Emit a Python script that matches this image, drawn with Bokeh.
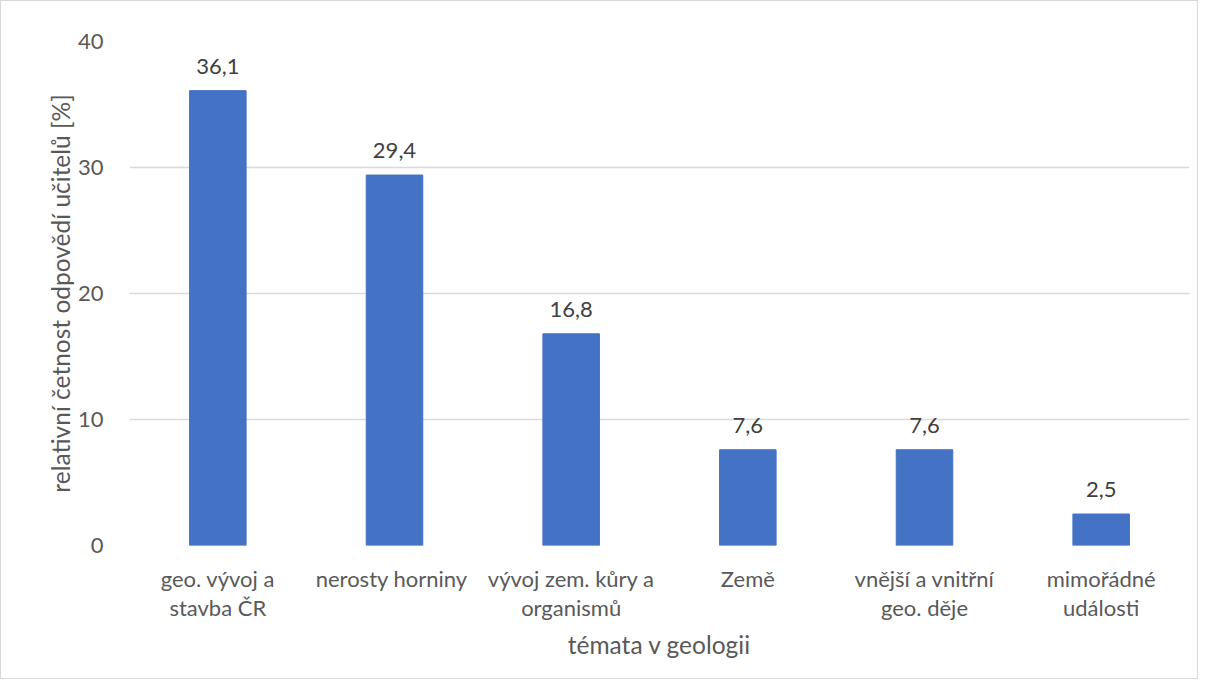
from bokeh.plotting import figure
from bokeh.models import ColumnDataSource, FactorRange, Range1d, FixedTicker, LabelSet
from bokeh.core.properties import value
from bokeh.embed import file_html
from bokeh.resources import INLINE

categories = ["geo. vývoj a\nstavba ČR", "nerosty  horniny", "vývoj zem. kůry a\norganismů",
              "Země", "vnější a vnitřní\ngeo. děje", "mimořádné\nudálosti"]
values = [36.1, 29.4, 16.8, 7.6, 7.6, 2.5]
value_labels = ["36,1", "29,4", "16,8", "7,6", "7,6", "2,5"]
y_ticks = [0, 10, 20, 30, 40]

FONT = "Lato"
TXT = "#595959"

src = ColumnDataSource(dict(x=categories, top=values, lab=value_labels))

p = figure(width=1198, height=679, x_range=FactorRange(*categories), y_range=Range1d(0, 40),
           output_backend="svg", toolbar_location=None,
           min_border_left=128, min_border_right=10, min_border_top=40, min_border_bottom=135)
p.styles = {"border": "1px solid #d9d9d9"}
p.outline_line_color = None
p.background_fill_color = "white"
p.border_fill_color = "white"

p.vbar(x="x", top="top", width=0.32, source=src, color="#4472C4", line_color="#4472C4")

labels = LabelSet(x="x", y="top", text="lab", source=src, text_align="center",
                  text_baseline="bottom", y_offset=17, text_font=value(FONT),
                  text_font_size="22px", text_color="#404040")
p.add_layout(labels)

p.xgrid.grid_line_color = None
p.ygrid.grid_line_color = "#d9d9d9"
p.ygrid.grid_line_width = 1.5
p.yaxis.ticker = FixedTicker(ticks=y_ticks)

for ax in (p.xaxis[0], p.yaxis[0]):
    ax.axis_line_color = None
    ax.major_tick_line_color = None
    ax.minor_tick_line_color = None
    ax.major_label_text_font = FONT
    ax.major_label_text_color = TXT
    ax.major_label_text_font_size = "22px"
    ax.axis_label_text_font = FONT
    ax.axis_label_text_color = TXT
    ax.axis_label_text_font_size = "24.5px"
    ax.axis_label_text_font_style = "normal"

p.yaxis.major_label_standoff = 20
p.yaxis.axis_label = "relativní četnost odpovědí učitelů [%]"
p.yaxis.axis_label_standoff = 0

p.xaxis.major_label_standoff = 13
p.xaxis.major_label_text_line_height = 1.1
p.xaxis.axis_label = "témata v geologii"
p.xaxis.axis_label_standoff = 6

open("out.html", "w").write(file_html(p, INLINE))
